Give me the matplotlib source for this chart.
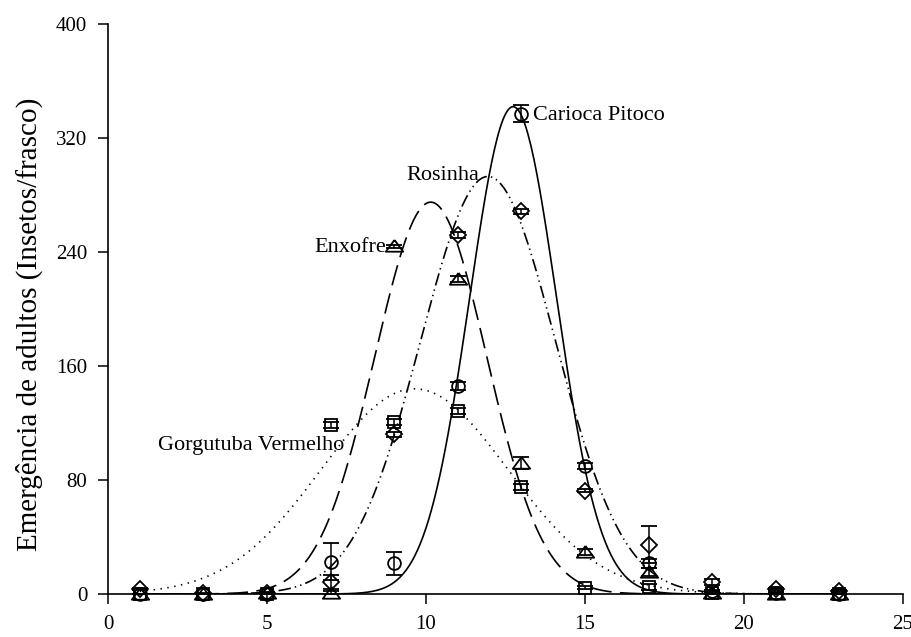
import matplotlib.pyplot as plt
import numpy as np

plt.rcParams['font.family'] = ['Liberation Serif', 'DejaVu Serif']
plt.rcParams['lines.scale_dashes'] = False

# dias apos a infestacao
dias = np.array([1, 3, 5, 7, 9, 11, 13, 15, 17, 19, 21, 23])

# media e erro padrao por cultivar
carioca = [0, 0, 0, 22.5, 21.5, 146, 337, 90, 21.5, 2, 1, 0]
carioca_ep = [0, 0, 0, 13, 8, 3, 6, 2, 3, 1, 0.5, 0]
rosinha = [3.5, 0.5, 0.5, 8.5, 112, 252, 268.5, 72.5, 34.5, 8.5, 3.5, 2]
rosinha_ep = [0.5, 0.3, 0.3, 5, 2, 2, 2, 1, 13, 2, 0.5, 0.5]
enxofre = [0, 0, 1, 1, 244, 221, 92, 29.5, 15.5, 1, 0, 0]
enxofre_ep = [0, 0, 0.5, 1, 1, 2, 4, 2, 3, 1, 0, 0]
gorgutuba = [0, 0, 0, 118.5, 120.5, 128.5, 75, 4.5, 5, 1, 0.5, 0]
gorgutuba_ep = [0, 0, 0, 2, 2, 2, 2, 1, 2, 1, 0.5, 0]

# ajuste gaussiano: altura, pico (dias), desvio
aj_carioca = (342, 12.74, 1.37)
aj_rosinha = (293, 11.95, 2.12)
aj_enxofre = (275, 10.15, 1.76)
aj_gorgutuba = (144, 9.64, 2.94)


def gauss(x, a, c, s):
    return a * np.exp(-0.5 * ((x - c) / s) ** 2)


fig = plt.figure(figsize=(9.12, 6.37), dpi=100)
ax = fig.add_axes([0.1184, 0.0675, 0.8717, 0.8948])

xx = np.linspace(1, 23, 500)
ax.plot(xx, gauss(xx, *aj_carioca), color='k', lw=1.2, ls='-')
ax.plot(xx, gauss(xx, *aj_rosinha), color='k', lw=1.2, dashes=(9, 3, 1, 3, 1, 3))
ax.plot(xx, gauss(xx, *aj_enxofre), color='k', lw=1.2, dashes=(15, 6))
ax.plot(xx, gauss(xx, *aj_gorgutuba), color='k', lw=1.2, dashes=(1, 4))

# triangulo mais largo que alto, como no original
tri = [(0, 0.75), (-1, -0.6), (1, -0.6), (0, 0.75)]

series = [(carioca, carioca_ep, 'o', 9.2),
          (rosinha, rosinha_ep, 'D', 8.3),
          (enxofre, enxofre_ep, tri, 12.5),
          (gorgutuba, gorgutuba_ep, 's', 8.5)]
for y, ep, mk, ms in series:
    eb = ax.errorbar(dias, y, yerr=ep, fmt='none', ecolor='k', elinewidth=1.1,
                     capsize=6, capthick=1.3)
    for art in eb.get_children():
        art.set_clip_on(False)
    ax.plot(dias, y, ls='none', marker=mk, ms=ms, mfc='none', mec='k',
            mew=1.3, clip_on=False)

fs = 16
ax.text(13.38, 336, 'Carioca Pitoco', ha='left', va='center', fontsize=fs)
ax.text(11.68, 294, 'Rosinha', ha='right', va='center', fontsize=fs)
ax.text(8.74, 243.5, 'Enxofre', ha='right', va='center', fontsize=fs)
ax.text(7.42, 104, 'Gorgutuba Vermelho', ha='right', va='center', fontsize=fs)

ax.set_xlim(0, 25)
ax.set_ylim(0, 400)
ax.set_xticks([0, 5, 10, 15, 20, 25])
ax.set_yticks([0, 80, 160, 240, 320, 400])
ax.spines['top'].set_visible(False)
ax.spines['right'].set_visible(False)
ax.spines['left'].set_linewidth(1.2)
ax.spines['bottom'].set_linewidth(1.2)
ax.tick_params(direction='out', length=7, width=1.1, labelsize=15, pad=8)
ax.set_ylabel('Emergência de adultos (Insetos/frasco)', fontsize=21)
ax.yaxis.set_label_coords(-0.082, 0.474)

plt.savefig('out.png')
